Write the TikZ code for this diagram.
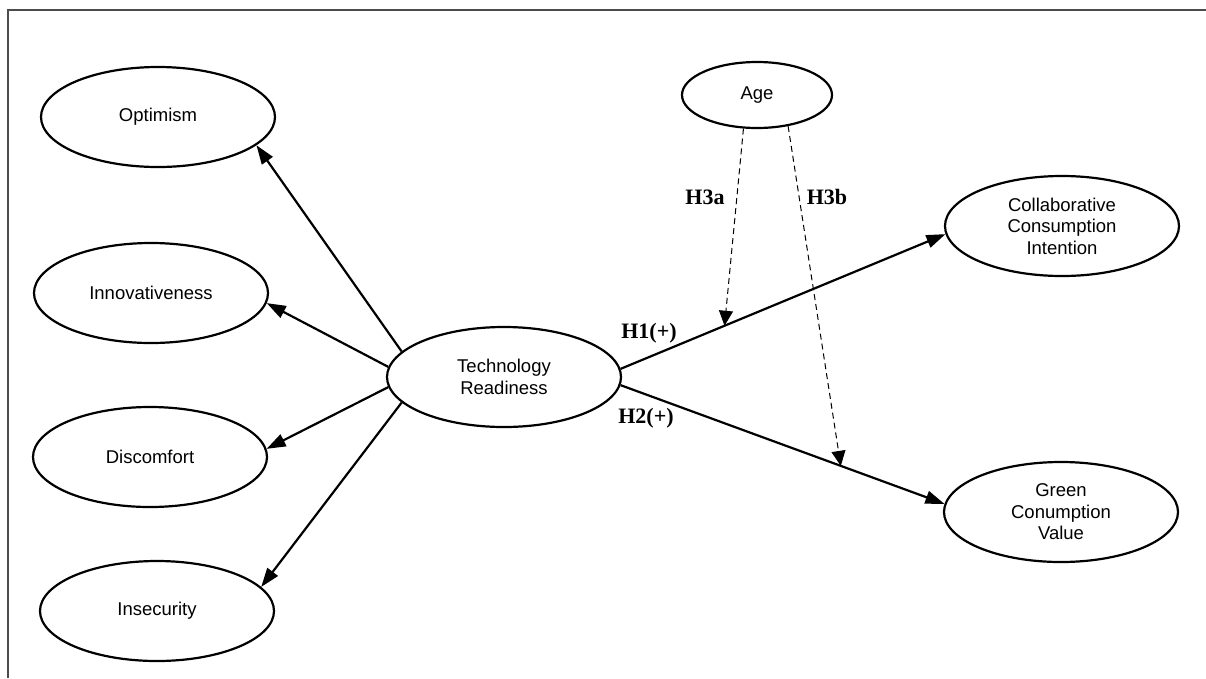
\documentclass[tikz,border=0pt]{standalone}
\usepackage{fontspec}
\setmainfont{Liberation Sans}
\newfontfamily\hfont{Liberation Serif}
\usetikzlibrary{shapes.geometric,arrows.meta}
\begin{document}
\begin{tikzpicture}[x=1pt,y=-1pt,
  construct/.style={ellipse,draw,line width=2.2pt,minimum width=234pt,minimum height=100pt,inner sep=0pt,
    align=center,font=\fontsize{18.5}{21.5}\selectfont},
  solidarrow/.style={line width=2.2pt,-{Triangle[length=19pt,width=13pt]}},
  modarrow/.style={line width=1pt,dash pattern=on 6pt off 4pt,-{Triangle[length=15pt,width=14pt]}},
  hlabel/.style={font=\hfont\bfseries\fontsize{22}{24}\selectfont,inner sep=0pt}]
\useasboundingbox (0,0) rectangle (1206,678);
\draw[line width=2pt,draw=black!70] (8,678) -- (8,10) -- (1206,10);
\node[construct] (opt) at (158,117) {Optimism};
\node[construct] (inn) at (151,293) {Innovativeness};
\node[construct] (dis) at (150,457) {Discomfort};
\node[construct] (ins) at (157,611) {Insecurity};
\node[construct] (tr) at (504,377) {Technology\\Readiness};
\node[construct,minimum width=150pt,minimum height=66pt] (age) at (757,95) {Age};
\node[construct] (cci) at (1062,226) {Collaborative\\Consumption\\Intention};
\node[construct] (gcv) at (1061,512) {Green\\Conumption\\Value};
\draw[solidarrow] (tr.166) -- (opt.-16);
\draw[solidarrow] (tr.175.6) -- (inn.-5.9);
\draw[solidarrow] (tr.185.9) -- (dis.4.9);
\draw[solidarrow] (tr.194.3) -- (ins.13.9);
\draw[solidarrow] (tr.4) -- coordinate[pos=0.32] (m1) (cci.184.5);
\draw[solidarrow] (tr.-4.4) -- coordinate[pos=0.68] (m2) (gcv.176.5);
\draw[modarrow] (age.-112) -- (m1);
\draw[modarrow] (age.-45) -- (m2);
\node[hlabel] (h3a) at (705,197) {H3a};
\node[hlabel] (h3b) at (827,197) {H3b};
\node[hlabel] (h1) at (649,333) {H1(+)};
\node[hlabel] (h2) at (646,418) {H2(+)};
\end{tikzpicture}
\end{document}
